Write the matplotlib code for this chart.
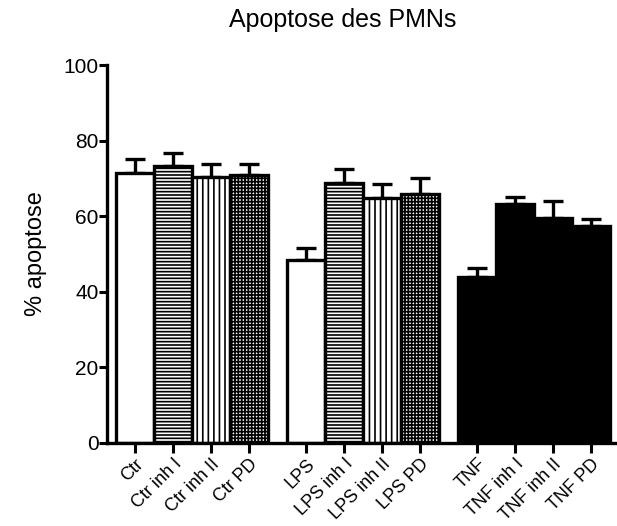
import numpy as np
import matplotlib
matplotlib.use("Agg")
import matplotlib.pyplot as plt

plt.rcParams['font.family'] = ['Liberation Sans', 'DejaVu Sans']
plt.rcParams['hatch.linewidth'] = 1.2

labels = ['Ctr', 'Ctr inh I', 'Ctr inh II', 'Ctr PD',
          'LPS', 'LPS inh I', 'LPS inh II', 'LPS PD',
          'TNF', 'TNF inh I', 'TNF inh II', 'TNF PD']
values = [71.4, 73.3, 70.4, 71.0,
          48.4, 68.8, 64.8, 65.9,
          43.9, 63.2, 59.5, 57.4]
errors = [3.8, 3.3, 3.5, 2.7,
          3.1, 3.8, 3.6, 4.1,
          2.3, 1.9, 4.4, 1.9]
hatches = ['', '-----', '|||', '+++++'] * 3
faces = ['white'] * 8 + ['black'] * 4

# 3 groups of 4 bars, half a bar gap between groups
x = np.array([0, 1, 2, 3, 4.5, 5.5, 6.5, 7.5, 9, 10, 11, 12])

fig = plt.figure(figsize=(6.17, 5.26), dpi=100)
ax = fig.add_axes([0.1734, 0.1578, 0.8236, 0.7186])

ax.errorbar(x, values, yerr=[np.zeros(len(values)), errors], fmt='none',
            ecolor='black', elinewidth=2.4, capsize=7, capthick=2.4, zorder=1)
for xi, v, h, fc in zip(x, values, hatches, faces):
    ax.bar(xi, v, width=1.0, color=fc, edgecolor='black', hatch=h,
           linewidth=2.4, zorder=2)

ax.set_xlim(-0.74, 12.63)
ax.set_ylim(0, 100)
ax.set_yticks([0, 20, 40, 60, 80, 100])
ax.set_xticks(x)
ax.set_xticklabels(labels, rotation=45, ha='right', rotation_mode='anchor',
                   fontsize=13)
ax.tick_params(axis='y', labelsize=15, length=6, width=2.2, direction='out', pad=0)
ax.tick_params(axis='x', length=7, width=2.2, direction='out', pad=2)

for s in ['top', 'right']:
    ax.spines[s].set_visible(False)
for s in ['left', 'bottom']:
    ax.spines[s].set_linewidth(2.4)

ax.set_ylabel('% apoptose', fontsize=17, labelpad=12)
fig.text(0.555, 0.962, 'Apoptose des PMNs', ha='center', va='center', fontsize=18)

fig.savefig('out.png', dpi=100)
